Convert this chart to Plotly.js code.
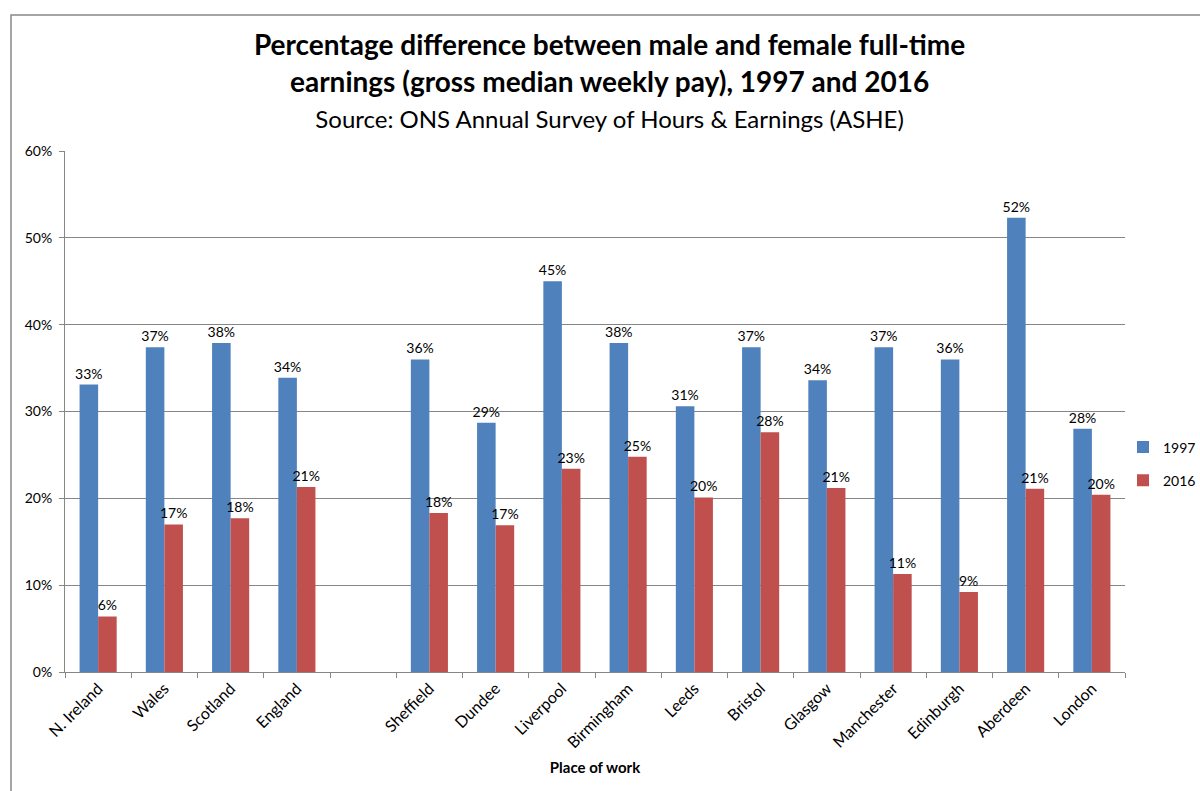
<!DOCTYPE html>
<html>
<head>
<meta charset="utf-8">
<script src="https://cdn.plot.ly/plotly-3.0.1.min.js"></script>
<style>
  html, body { margin: 0; padding: 0; background: #fff; }
  #chart { width: 1200px; height: 791px; }
</style>
</head>
<body>
<div id="chart"></div>
<script>
// Categories (blank " " is the gap between nations and cities)
const categories = ["N. Ireland", "Wales", "Scotland", "England", " ",
  "Sheffield", "Dundee", "Liverpool", "Birmingham", "Leeds", "Bristol",
  "Glasgow", "Manchester", "Edinburgh", "Aberdeen", "London"];

// Percentage gap, 1997
const values1997 = [33.1, 37.4, 37.9, 33.9, null,
  36.0, 28.7, 45.0, 37.9, 30.6, 37.4,
  33.6, 37.4, 36.0, 52.3, 28.0];

// Percentage gap, 2016
const values2016 = [6.4, 17.0, 17.7, 21.3, null,
  18.3, 16.9, 23.4, 24.8, 20.1, 27.6,
  21.2, 11.3, 9.2, 21.1, 20.4];

const seriesNames = ["1997", "2016"];
const yTicks = [0, 10, 20, 30, 40, 50, 60];
const yTickText = ["0%", "10%", "20%", "30%", "40%", "50%", "60%"];

const FONT = "Lato, 'Open Sans', sans-serif";
const GRID = "#868686";

const traces = [
  {
    type: "bar", name: seriesNames[0], x: categories, y: values1997,
    marker: { color: "#4F81BD", line: { width: 0 } },
    texttemplate: "%{y:.0f}%", textposition: "outside", cliponaxis: false,
    constraintext: "none",
    textfont: { family: FONT, size: 14, color: "#000" },
    legendgroup: "a", hoverinfo: "x+y"
  },
  {
    type: "bar", name: seriesNames[1], x: categories, y: values2016,
    marker: { color: "#C0504D", line: { width: 0 } },
    texttemplate: "%{y:.0f}%", textposition: "outside", cliponaxis: false,
    constraintext: "none",
    textfont: { family: FONT, size: 14, color: "#000" },
    legendgroup: "b", hoverinfo: "x+y"
  }
];

const L = 65, R = 75, T = 151, B = 119;
const PW = 1200 - L - R, PH = 791 - T - B;
function px(x) { return (x - L) / PW; }
function py(y) { return (791 - B - y) / PH; }

const layout = {
  width: 1200, height: 791,
  paper_bgcolor: "#fff", plot_bgcolor: "#fff",
  margin: { l: L, r: R, t: T, b: B, pad: 0, autoexpand: false },
  font: { family: FONT, size: 14, color: "#000" },
  title: {
    text: "<b>Percentage difference between male and female full-time<br>earnings (gross median weekly pay), 1997 and 2016</b><br><span style=\"font-size:24px\">Source: ONS Annual Survey of Hours &amp; Earnings (ASHE)</span>",
    font: { family: FONT, size: 28, color: "#000" },
    x: 0.508, xanchor: "center", xref: "container",
    y: 0.930, yanchor: "top", yref: "container"
  },
  barmode: "group",
  bargap: 0.44,
  bargroupgap: 0,
  xaxis: {
    type: "category",
    categoryorder: "array", categoryarray: categories,
    tickangle: -45,
    tickson: "boundaries",
    ticks: "outside", ticklen: 5, tickcolor: GRID, tickwidth: 1,
    showline: true, linecolor: GRID, linewidth: 1,
    showgrid: false,
    tickfont: { family: FONT, size: 16, color: "#000" },
    title: { text: "<b>Place of work</b>", font: { family: FONT, size: 15, color: "#000" }, standoff: 12 },
    automargin: false,
    fixedrange: true
  },
  yaxis: {
    range: [0, 60],
    tickmode: "array",
    tickvals: yTicks,
    ticktext: yTickText,
    ticks: "outside", ticklen: 5, tickcolor: GRID, tickwidth: 1,
    ticklabelstandoff: 4,
    showline: true, linecolor: GRID, linewidth: 1,
    showgrid: true, gridcolor: GRID, gridwidth: 1,
    zeroline: false,
    tickfont: { family: FONT, size: 14, color: "#000" },
    automargin: false,
    fixedrange: true
  },
  showlegend: true,
  legend: {
    x: 1123 / 1200, xanchor: "left", xref: "container",
    y: 1 - 464 / 791, yanchor: "middle", yref: "container",
    traceorder: "grouped",
    tracegroupgap: 12,
    font: { family: FONT, size: 14, color: "#000" },
    itemwidth: 30,
    bgcolor: "rgba(0,0,0,0)"
  },
  shapes: [
    {
      type: "rect", xref: "paper", yref: "paper", layer: "below",
      x0: px(11), x1: px(1230), y0: py(820), y1: py(15),
      line: { color: "#888888", width: 1.5 }, fillcolor: "rgba(0,0,0,0)"
    }
  ]
};

Plotly.newPlot("chart", traces, layout, { displayModeBar: false, staticPlot: true });
</script>
</body>
</html>
